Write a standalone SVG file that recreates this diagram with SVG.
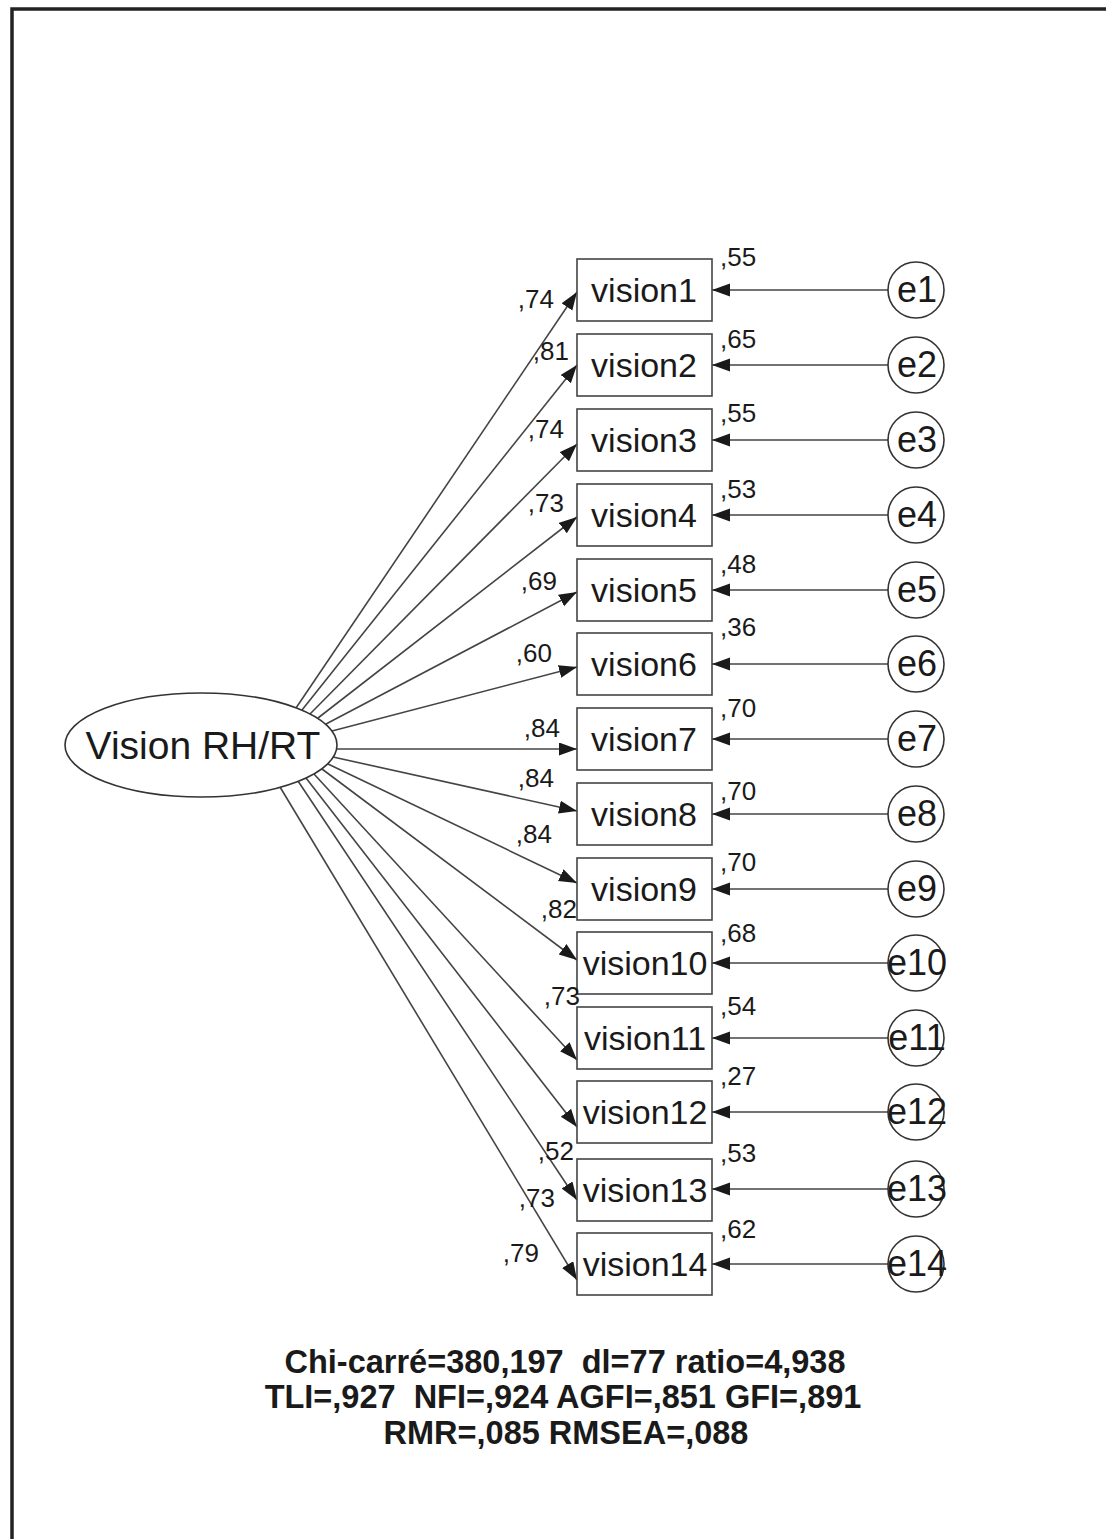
<svg xmlns="http://www.w3.org/2000/svg" width="1106" height="1539" viewBox="0 0 1106 1539">
<style>
.box{fill:#fff;stroke:#444;stroke-width:1.6}
.lat{fill:#fff;stroke:#333;stroke-width:1.6}
.con{stroke:#444;stroke-width:1.6;fill:none;marker-end:url(#ah)}
.t{font-family:"Liberation Sans",Arial,sans-serif;fill:#1a1a1a}
.vl{font-size:34px;text-anchor:middle}
.el{font-size:36px;text-anchor:middle}
.ld{font-size:26px;text-anchor:end}
.vr{font-size:26px}
.fit{font-size:32.5px;font-weight:bold;text-anchor:middle}
</style>
<defs>
<marker id="ah" markerUnits="userSpaceOnUse" markerWidth="19" markerHeight="14" refX="18" refY="6.5" orient="auto">
<path d="M0,0 L18,6.5 L0,13 z" fill="#1a1a1a"/>
</marker>
</defs>
<rect width="1106" height="1539" fill="#fff"/>
<path d="M12,1539 V9 H1106" fill="none" stroke="#222" stroke-width="3.5"/>

<g id="connectors">
<line class="con" x1="296" y1="708" x2="577" y2="292"/>
<line class="con" x1="302" y1="710" x2="577" y2="365"/>
<line class="con" x1="310" y1="714" x2="577" y2="444"/>
<line class="con" x1="318" y1="718" x2="577" y2="517"/>
<line class="con" x1="326" y1="724" x2="577" y2="592"/>
<line class="con" x1="332" y1="731" x2="577" y2="667"/>
<line class="con" x1="337" y1="749" x2="577" y2="749"/>
<line class="con" x1="333" y1="757" x2="577" y2="811"/>
<line class="con" x1="328" y1="764" x2="577" y2="883"/>
<line class="con" x1="322" y1="769" x2="577" y2="960"/>
<line class="con" x1="314" y1="774" x2="577" y2="1060"/>
<line class="con" x1="306" y1="778" x2="577" y2="1127"/>
<line class="con" x1="298" y1="781" x2="577" y2="1200"/>
<line class="con" x1="280" y1="787" x2="577" y2="1280"/>
<line class="con" x1="888" y1="290" x2="712" y2="290"/>
<line class="con" x1="888" y1="365" x2="712" y2="365"/>
<line class="con" x1="888" y1="440" x2="712" y2="440"/>
<line class="con" x1="888" y1="515" x2="712" y2="515"/>
<line class="con" x1="888" y1="590" x2="712" y2="590"/>
<line class="con" x1="888" y1="664" x2="712" y2="664"/>
<line class="con" x1="888" y1="739" x2="712" y2="739"/>
<line class="con" x1="888" y1="814" x2="712" y2="814"/>
<line class="con" x1="888" y1="889" x2="712" y2="889"/>
<line class="con" x1="888" y1="963" x2="712" y2="963"/>
<line class="con" x1="888" y1="1038" x2="712" y2="1038"/>
<line class="con" x1="888" y1="1112" x2="712" y2="1112"/>
<line class="con" x1="888" y1="1189" x2="712" y2="1189"/>
<line class="con" x1="888" y1="1264" x2="712" y2="1264"/>
</g>

<g id="latent">
<ellipse class="lat" cx="201" cy="745" rx="136" ry="52"/>
<text class="t" x="203" y="759" font-size="39" text-anchor="middle">Vision RH/RT</text>
</g>

<g id="vision1"><rect class="box" x="577" y="259" width="135" height="62"/><text class="t vl" x="644" y="302">vision1</text></g>
<g id="vision2"><rect class="box" x="577" y="334" width="135" height="62"/><text class="t vl" x="644" y="377">vision2</text></g>
<g id="vision3"><rect class="box" x="577" y="409" width="135" height="62"/><text class="t vl" x="644" y="452">vision3</text></g>
<g id="vision4"><rect class="box" x="577" y="484" width="135" height="62"/><text class="t vl" x="644" y="527">vision4</text></g>
<g id="vision5"><rect class="box" x="577" y="559" width="135" height="62"/><text class="t vl" x="644" y="602">vision5</text></g>
<g id="vision6"><rect class="box" x="577" y="633" width="135" height="62"/><text class="t vl" x="644" y="676">vision6</text></g>
<g id="vision7"><rect class="box" x="577" y="708" width="135" height="62"/><text class="t vl" x="644" y="751">vision7</text></g>
<g id="vision8"><rect class="box" x="577" y="783" width="135" height="62"/><text class="t vl" x="644" y="826">vision8</text></g>
<g id="vision9"><rect class="box" x="577" y="858" width="135" height="62"/><text class="t vl" x="644" y="901">vision9</text></g>
<g id="vision10"><rect class="box" x="577" y="932" width="135" height="62"/><text class="t vl" x="645" y="975">vision10</text></g>
<g id="vision11"><rect class="box" x="577" y="1007" width="135" height="62"/><text class="t vl" x="645" y="1050">vision11</text></g>
<g id="vision12"><rect class="box" x="577" y="1081" width="135" height="62"/><text class="t vl" x="645" y="1124">vision12</text></g>
<g id="vision13"><rect class="box" x="577" y="1159" width="135" height="62"/><text class="t vl" x="645" y="1202">vision13</text></g>
<g id="vision14"><rect class="box" x="577" y="1233" width="135" height="62"/><text class="t vl" x="645" y="1276">vision14</text></g>

<g id="e1"><circle class="lat" cx="916" cy="290" r="28"/><text class="t el" x="917" y="302">e1</text></g>
<g id="e2"><circle class="lat" cx="916" cy="365" r="28"/><text class="t el" x="917" y="377">e2</text></g>
<g id="e3"><circle class="lat" cx="916" cy="440" r="28"/><text class="t el" x="917" y="452">e3</text></g>
<g id="e4"><circle class="lat" cx="916" cy="515" r="28"/><text class="t el" x="917" y="527">e4</text></g>
<g id="e5"><circle class="lat" cx="916" cy="590" r="28"/><text class="t el" x="917" y="602">e5</text></g>
<g id="e6"><circle class="lat" cx="916" cy="664" r="28"/><text class="t el" x="917" y="676">e6</text></g>
<g id="e7"><circle class="lat" cx="916" cy="739" r="28"/><text class="t el" x="917" y="751">e7</text></g>
<g id="e8"><circle class="lat" cx="916" cy="814" r="28"/><text class="t el" x="917" y="826">e8</text></g>
<g id="e9"><circle class="lat" cx="916" cy="889" r="28"/><text class="t el" x="917" y="901">e9</text></g>
<g id="e10"><circle class="lat" cx="916" cy="963" r="28"/><text class="t el" x="917" y="975">e10</text></g>
<g id="e11"><circle class="lat" cx="916" cy="1038" r="28"/><text class="t el" x="917" y="1050">e11</text></g>
<g id="e12"><circle class="lat" cx="916" cy="1112" r="28"/><text class="t el" x="917" y="1124">e12</text></g>
<g id="e13"><circle class="lat" cx="916" cy="1189" r="28"/><text class="t el" x="917" y="1201">e13</text></g>
<g id="e14"><circle class="lat" cx="916" cy="1264" r="28"/><text class="t el" x="917" y="1276">e14</text></g>

<g id="loadings">
<text class="t ld" x="554" y="308">,74</text>
<text class="t ld" x="569" y="360">,81</text>
<text class="t ld" x="564" y="438">,74</text>
<text class="t ld" x="564" y="512">,73</text>
<text class="t ld" x="557" y="590">,69</text>
<text class="t ld" x="552" y="662">,60</text>
<text class="t ld" x="560" y="737">,84</text>
<text class="t ld" x="554" y="787">,84</text>
<text class="t ld" x="552" y="843">,84</text>
<text class="t ld" x="577" y="918">,82</text>
<text class="t ld" x="580" y="1005">,73</text>
<text class="t ld" x="574" y="1160">,52</text>
<text class="t ld" x="555" y="1207">,73</text>
<text class="t ld" x="539" y="1262">,79</text>
</g>

<g id="variances">
<text class="t vr" x="720" y="266">,55</text>
<text class="t vr" x="720" y="348">,65</text>
<text class="t vr" x="720" y="422">,55</text>
<text class="t vr" x="720" y="498">,53</text>
<text class="t vr" x="720" y="573">,48</text>
<text class="t vr" x="720" y="636">,36</text>
<text class="t vr" x="720" y="717">,70</text>
<text class="t vr" x="720" y="800">,70</text>
<text class="t vr" x="720" y="871">,70</text>
<text class="t vr" x="720" y="942">,68</text>
<text class="t vr" x="720" y="1015">,54</text>
<text class="t vr" x="720" y="1085">,27</text>
<text class="t vr" x="720" y="1162">,53</text>
<text class="t vr" x="720" y="1238">,62</text>
</g>

<g id="fit">
<text class="t fit" x="565" y="1373" xml:space="preserve">Chi-carré=380,197  dl=77 ratio=4,938</text>
<text class="t fit" x="563" y="1408" xml:space="preserve">TLI=,927  NFI=,924 AGFI=,851 GFI=,891</text>
<text class="t fit" x="566" y="1444">RMR=,085 RMSEA=,088</text>
</g>
</svg>
